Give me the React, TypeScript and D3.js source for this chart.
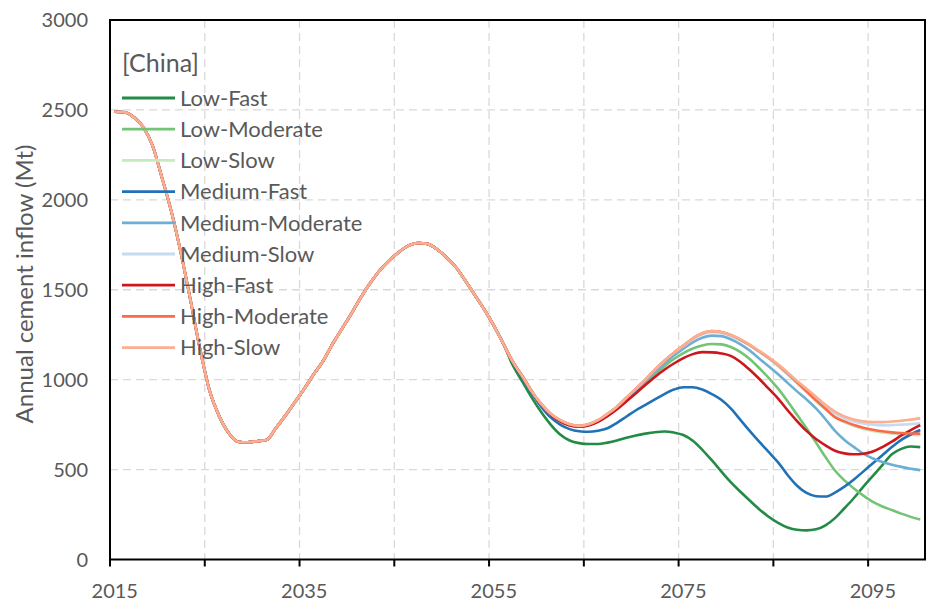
import React from "react";
import * as d3 from "d3";

const START_YEAR = 2015;
const END_YEAR = 2100;

// Shared trajectory 2015-2056
const common = [
  2490, 2487, 2460, 2405, 2300, 2120, 1930, 1700, 1440, 1170,
  940, 800, 705, 655, 652, 658, 664, 730, 800, 875,
  950, 1030, 1105, 1200, 1285, 1370, 1460, 1540, 1610, 1665,
  1710, 1745, 1760, 1755, 1725, 1680, 1625, 1550, 1470, 1390,
  1300, 1200,
];

// Scenario tails 2057-2100
const lowFast = [
  1080, 990, 900, 820, 750, 695, 662, 647, 642, 642,
  650, 662, 677, 690, 700, 708, 712, 706, 692, 660,
  610, 552, 490, 430, 378, 328, 280, 238, 204, 178,
  165, 162, 168, 190, 230, 285, 342, 405, 465, 525,
  585, 615, 628, 625,
];
const lowModerate = [
  1100, 1020, 935, 862, 805, 770, 748, 740, 748, 770,
  803, 843, 885, 932, 982, 1030, 1075, 1115, 1148, 1173,
  1190, 1198, 1196, 1182, 1155, 1115, 1065, 1010, 950, 880,
  805, 730, 650, 570, 495, 440, 395, 355, 320, 295,
  275, 255, 237, 222,
];
const lowSlow = [
  1100, 1020, 935, 865, 810, 775, 752, 743, 752, 775,
  810, 850, 900, 950, 1000, 1055, 1105, 1148, 1188, 1227,
  1255, 1267, 1262, 1245, 1220, 1190, 1155, 1118, 1075, 1028,
  980, 930, 880, 833, 792, 763, 742, 726, 714, 705,
  700, 696, 694, 692,
];
const mediumFast = [
  1095, 1012, 925, 850, 790, 750, 725, 713, 710, 716,
  730, 760, 795, 830, 860, 890, 920, 945, 958, 958,
  945, 920, 888, 840, 778, 715, 655, 598, 540, 470,
  410, 370, 352, 350, 372, 405, 445, 490, 535, 580,
  625, 665, 695, 720,
];
const mediumModerate = [
  1100, 1020, 935, 862, 805, 770, 748, 740, 748, 770,
  803, 843, 890, 940, 990, 1042, 1090, 1135, 1172, 1208,
  1233, 1245, 1242, 1225, 1198, 1162, 1118, 1075, 1030, 982,
  935, 890, 840, 780, 715, 665, 625, 588, 562, 542,
  527, 515, 505, 497,
];
const mediumSlow = [
  1100, 1020, 935, 865, 810, 775, 752, 743, 752, 775,
  810, 850, 900, 950, 1000, 1055, 1105, 1148, 1186, 1225,
  1253, 1265, 1260, 1243, 1220, 1190, 1155, 1120, 1078, 1030,
  985, 940, 895, 850, 812, 785, 768, 756, 749, 746,
  747, 750, 753, 757,
];
const highFast = [
  1100, 1020, 935, 862, 805, 768, 745, 738, 745, 766,
  797, 835, 880, 925, 970, 1015, 1055, 1090, 1120, 1142,
  1153, 1152, 1146, 1132, 1100, 1055, 1005, 950, 895, 830,
  770, 715, 670, 635, 605, 590, 585, 588, 600, 625,
  655, 690, 720, 747,
];
const highModerate = [
  1100, 1020, 935, 865, 810, 775, 752, 743, 752, 775,
  810, 850, 900, 950, 1000, 1055, 1105, 1150, 1190, 1230,
  1258, 1270, 1265, 1248, 1223, 1193, 1158, 1122, 1082, 1035,
  985, 935, 885, 838, 792, 768, 748, 733, 722, 713,
  707, 703, 701, 700,
];
const highSlow = [
  1100, 1020, 935, 865, 810, 775, 752, 743, 752, 775,
  810, 850, 900, 950, 1000, 1055, 1105, 1150, 1190, 1230,
  1258, 1270, 1265, 1248, 1225, 1195, 1160, 1125, 1085, 1040,
  993, 950, 905, 860, 822, 795, 778, 768, 764, 764,
  767, 772, 778, 785,
];

const seriesNames = [
  "Low-Fast", "Low-Moderate", "Low-Slow",
  "Medium-Fast", "Medium-Moderate", "Medium-Slow",
  "High-Fast", "High-Moderate", "High-Slow",
];
const seriesTails = [
  lowFast, lowModerate, lowSlow,
  mediumFast, mediumModerate, mediumSlow,
  highFast, highModerate, highSlow,
];
const seriesColors = [
  "#238b45", "#74c476", "#c7e9c0",
  "#2171b5", "#6baed6", "#c6dbef",
  "#cb181d", "#fb6a4a", "#fcae91",
];

const yTicks = [0, 500, 1000, 1500, 2000, 2500, 3000];
const xLabelYears = [2015, 2035, 2055, 2075, 2095];

const W = 932;
const H = 613;
const L = 110, R = 925, T = 20, B = 559.5;
const FONT = "Lato, 'Open Sans', sans-serif";
const GRAY = "#595959";

export default function App() {
  const years = d3.range(START_YEAR, END_YEAR + 1);
  const x = d3.scaleLinear().domain([START_YEAR - 0.5, END_YEAR + 0.5]).range([L, R]);
  const y = d3.scaleLinear().domain([0, 3000]).range([B, T]);
  const line = d3
    .line<[number, number]>()
    .x((d) => x(d[0]))
    .y((d) => y(d[1]))
    .curve(d3.curveMonotoneX);

  const boundaries = d3.range(START_YEAR - 0.5 + 10, END_YEAR, 10);
  const tickMarks = d3.range(START_YEAR - 0.5, END_YEAR + 1, 10);

  const series = seriesNames.map((name, i) => {
    const vals = common.concat(seriesTails[i]);
    return { name, color: seriesColors[i], pts: years.map((yr, j) => [yr, vals[j]] as [number, number]) };
  });

  const legendX = 122;
  const legendY0 = 98;
  const legendDy = 31.2;

  return (
    <svg width={W} height={H} style={{ position: "absolute", left: 0, top: 0, background: "#fff" }} fontFamily={FONT}>
      <rect x={0} y={0} width={W} height={H} fill="#fff" />
      {/* grid */}
      {yTicks.filter((v) => v > 0 && v < 3000).map((v) => (
        <line key={"gy" + v} x1={L} x2={R} y1={y(v)} y2={y(v)} stroke="#d9d9d9" strokeWidth={1.3} strokeDasharray="8,5" />
      ))}
      {boundaries.map((b) => (
        <line key={"gx" + b} x1={x(b)} x2={x(b)} y1={T} y2={B} stroke="#d9d9d9" strokeWidth={1.3} strokeDasharray="8,5" />
      ))}
      {/* series */}
      {series.map((s) => (
        <path key={s.name} d={line(s.pts) || ""} fill="none" stroke={s.color} strokeWidth={2.6} strokeLinejoin="round" />
      ))}
      {/* frame */}
      <rect x={L} y={T} width={R - L} height={B - T} fill="none" stroke="#000" strokeWidth={2} />
      {tickMarks.map((b) => (
        <line key={"tm" + b} x1={x(b)} x2={x(b)} y1={B} y2={B + 7} stroke="#000" strokeWidth={2} />
      ))}
      {/* y labels */}
      {yTicks.map((v) => (
        <text key={"yl" + v} x={88} y={y(v)} dy="0.35em" textAnchor="end" fontSize={20} fill={GRAY}>
          {v}
        </text>
      ))}
      {/* x labels */}
      {xLabelYears.map((yr) => (
        <text key={"xl" + yr} x={x(yr)} y={591} dy="0.35em" textAnchor="middle" fontSize={20} fill={GRAY}>
          {yr}
        </text>
      ))}
      {/* y title */}
      <text transform={`translate(25,${284}) rotate(-90)`} textAnchor="middle" dy="0.35em" fontSize={24} fill={GRAY}>
        Annual cement inflow (Mt)
      </text>
      {/* legend */}
      <text x={122} y={63} dy="0.35em" fontSize={25} fill={GRAY}>
        [China]
      </text>
      {series.map((s, i) => (
        <g key={"lg" + s.name}>
          <line x1={legendX} x2={legendX + 53} y1={legendY0 + i * legendDy} y2={legendY0 + i * legendDy} stroke={s.color} strokeWidth={2.8} />
          <text x={180} y={legendY0 + i * legendDy} dy="0.35em" fontSize={22} fill={GRAY}>
            {s.name}
          </text>
        </g>
      ))}
    </svg>
  );
}
